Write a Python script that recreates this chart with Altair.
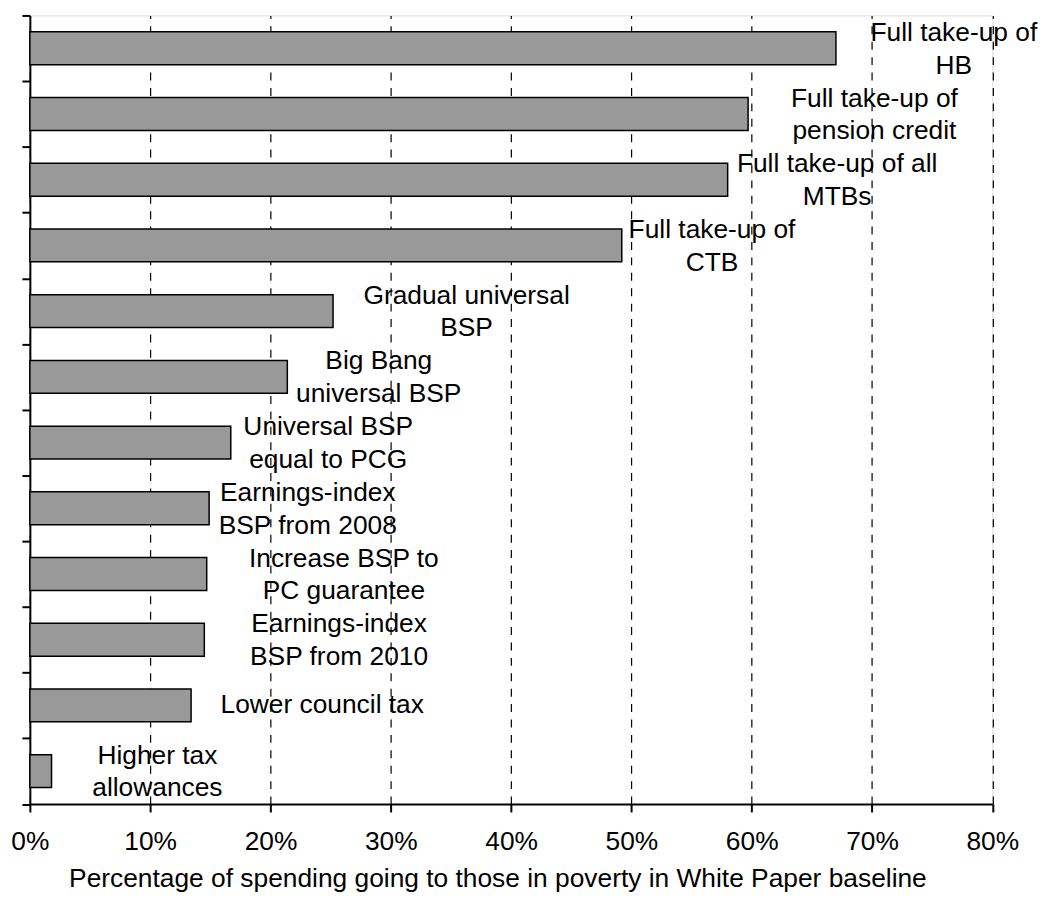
import altair as alt
import pandas as pd

categories = [
    "Full take-up of\nHB",
    "Full take-up of\npension credit",
    "Full take-up of all\nMTBs",
    "Full take-up of\nCTB",
    "Gradual universal\nBSP",
    "Big Bang\nuniversal BSP",
    "Universal BSP\nequal to PCG",
    "Earnings-index\nBSP from 2008",
    "Increase BSP to\nPC guarantee",
    "Earnings-index\nBSP from 2010",
    "Lower council tax",
    "Higher tax\nallowances",
]
values = [67.0, 59.7, 58.0, 49.2, 25.2, 21.4, 16.7, 14.9, 14.7, 14.5, 13.4, 1.8]
label_x = [76.8, 70.2, 67.1, 56.7, 36.3, 29.0, 24.8, 23.1, 26.1, 25.7, 24.3, 10.6]
x_ticks = [0, 10, 20, 30, 40, 50, 60, 70, 80]

df = pd.DataFrame({"cat": categories, "value": values, "lx": label_x})
df["nlines"] = [c.count("\n") + 1 for c in categories]

FONT = "Liberation Sans"
FS = 26.5
LH = 33

y_scale = alt.Scale(paddingInner=0, paddingOuter=0)

y_enc = alt.Y(
    "cat:N",
    sort=categories,
    scale=y_scale,
    axis=alt.Axis(
        title=None,
        labels=False,
        ticks=True,
        tickBand="extent",
        tickSize=8,
        tickWidth=2,
        tickColor="black",
        domainColor="black",
        domainWidth=2,
        grid=False,
    ),
)

x_scale = alt.Scale(domain=[0, 80], nice=False)

bars = alt.Chart(df).mark_bar(
    fill="#999999", stroke="black", strokeWidth=1.5,
    height=alt.RelativeBandSize(band=0.5),
).encode(
    x=alt.X(
        "value:Q",
        scale=x_scale,
        axis=alt.Axis(
            values=x_ticks,
            labelExpr="datum.value + '%'",
            title="Percentage of spending going to those in poverty in White Paper baseline",
            titleFont=FONT,
            titleFontSize=FS,
            titleFontWeight="normal",
            titleColor="black",
            titleBaseline="alphabetic",
            titleAlign="center",
            titleX=470.5,
            titleY=83,
            labelFont=FONT,
            labelFontSize=FS,
            labelColor="black",
            labelPadding=17,
            labelFlush=False,
            tickSize=8,
            tickWidth=2,
            tickColor="black",
            domainColor="black",
            domainWidth=2,
            grid=True,
            gridColor="black",
            gridWidth=1.2,
            gridDash=[8, 7.5],
        ),
    ),
    y=y_enc,
)


def label_layer(n, dy):
    return alt.Chart(df).transform_filter(
        alt.datum.nlines == n
    ).mark_text(
        font=FONT, fontSize=FS, color="black", align="center", baseline="middle",
        lineBreak="\n", lineHeight=LH, dy=dy,
    ).encode(
        x=alt.X("lx:Q", scale=x_scale),
        y=alt.Y("cat:N", sort=categories, scale=y_scale),
        text="cat:N",
    )


labels_one = label_layer(1, 0)
labels_two = label_layer(2, -LH / 2 + 1)

chart = alt.layer(bars, labels_one, labels_two).properties(
    width=968.5,
    height=793.5,
    autosize=alt.AutoSizeParams(type="none"),
    padding={"left": 22, "top": 4.7, "right": 52, "bottom": 91},
).configure_view(stroke=None).configure(background="white")

chart.save("out.html", embed_options={"renderer": "svg", "actions": False})
